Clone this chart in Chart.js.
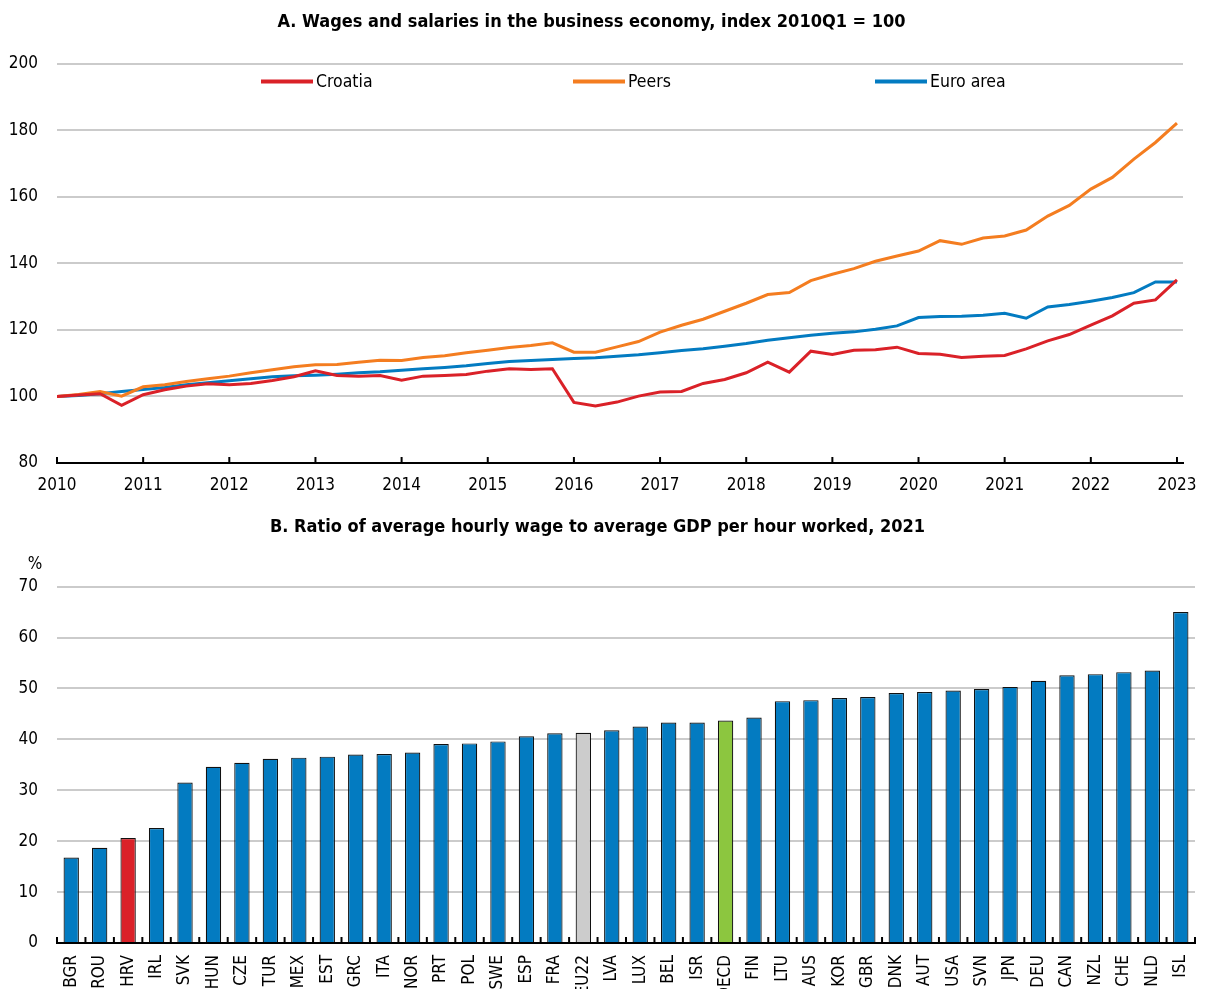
<!DOCTYPE html>
<html>
<head>
<meta charset="utf-8">
<script src="https://cdn.jsdelivr.net/npm/chart.js@4.4.0/dist/chart.umd.min.js"></script>
<style>
  body { margin: 0; background: #fff; }
  #chartA { position: absolute; left: 0; top: 0; }
  #chartB { position: absolute; left: 0; top: 505px; }
</style>
</head>
<body>
<canvas id="chartA" width="1206" height="505"></canvas>
<canvas id="chartB" width="1206" height="484"></canvas>
<script>
// Panel A : quarterly index, 2010Q1 .. 2023Q1
const firstYear = 2010;
const lastYear = 2023;
const seriesNames = ['Croatia', 'Peers', 'Euro area'];

const croatia = [100, 100.4, 100.8, 97.3, 100.5, 102.0, 103.1, 103.8, 103.5, 103.9,
    104.8, 105.9, 107.7, 106.3, 106.1, 106.3, 104.9, 106.1, 106.3, 106.6,
    107.6, 108.3, 108.1, 108.3, 98.2, 97.1, 98.3, 100.1, 101.3, 101.5,
    103.9, 105.1, 107.1, 110.3, 107.3, 113.6, 112.6, 113.9, 114.0, 114.8,
    112.9, 112.7, 111.7, 112.1, 112.3, 114.3, 116.7, 118.6, 121.4, 124.2,
    128.0, 129.0, 135.0];

const peers = [100, 100.6, 101.5, 100.1, 102.9, 103.5, 104.5, 105.3, 106.1, 107.1,
    108.0, 108.9, 109.5, 109.6, 110.3, 110.9, 110.8, 111.7, 112.2, 113.1,
    113.9, 114.7, 115.3, 116.1, 113.3, 113.3, 114.9, 116.5, 119.3, 121.4,
    123.2, 125.6, 128.0, 130.6, 131.2, 134.8, 136.7, 138.4, 140.6, 142.2,
    143.7, 146.8, 145.7, 147.6, 148.2, 150.0, 154.2, 157.4, 162.3, 165.8,
    171.3, 176.3, 182.1];

const euroArea = [100, 100.3, 100.8, 101.5, 102.1, 102.7, 103.5, 104.1, 104.7, 105.3,
    105.9, 106.2, 106.4, 106.7, 107.1, 107.4, 107.9, 108.3, 108.7, 109.2,
    109.9, 110.5, 110.8, 111.1, 111.4, 111.6, 112.1, 112.5, 113.1, 113.8,
    114.3, 115.1, 115.9, 116.9, 117.6, 118.4, 119.0, 119.4, 120.2, 121.2,
    123.7, 124.0, 124.1, 124.4, 125.0, 123.5, 126.9, 127.6, 128.6, 129.7,
    131.2, 134.4, 134.4];

// Panel B : ratio in %, 2021
const countries = ['BGR', 'ROU', 'HRV', 'IRL', 'SVK', 'HUN', 'CZE', 'TUR', 'MEX', 'EST',
    'GRC', 'ITA', 'NOR', 'PRT', 'POL', 'SWE', 'ESP', 'FRA', 'EU22', 'LVA',
    'LUX', 'BEL', 'ISR', 'OECD', 'FIN', 'LTU', 'AUS', 'KOR', 'GBR', 'DNK',
    'AUT', 'USA', 'SVN', 'JPN', 'DEU', 'CAN', 'NZL', 'CHE', 'NLD', 'ISL'];
const ratios = [16.8, 18.7, 20.6, 22.6, 31.5, 34.6, 35.4, 36.2, 36.4, 36.6,
    37.0, 37.1, 37.4, 39.1, 39.2, 39.6, 40.6, 41.2, 41.3, 41.8,
    42.5, 43.3, 43.3, 43.7, 44.3, 47.5, 47.7, 48.1, 48.3, 49.1,
    49.3, 49.6, 49.9, 50.3, 51.5, 52.6, 52.8, 53.2, 53.5, 65.0];

const FONT = "'DejaVu Sans Condensed', 'Liberation Sans Narrow', sans-serif";
const RED = '#da2128', ORANGE = '#f47d20', BLUE = '#037bc1';
const GRID = '#cbcbcb';

let toPoints = function (values) {
    return values.map((v, i) => ({ x: firstYear + i / 4, y: v }));
};

// small ticks pointing up into the plot, like the original
const innerTicks = {
    id: 'innerTicks',
    afterDraw(chart, args, opts) {
        const sx = chart.scales.x;
        const ctx = chart.ctx;
        const bottom = chart.chartArea.bottom;
        let xs = [];
        if (opts.between) {
            const n = sx.ticks.length;
            for (let i = 0; i <= n; i++) xs.push(sx.left + i * sx.width / n);
        } else {
            xs = sx.ticks.map(t => sx.getPixelForValue(t.value));
        }
        ctx.save();
        ctx.strokeStyle = '#000';
        ctx.lineWidth = 2;
        xs.forEach(px => {
            ctx.beginPath();
            ctx.moveTo(px, bottom);
            ctx.lineTo(px, bottom - 6);
            ctx.stroke();
        });
        ctx.restore();
    }
};

const lineLegend = {
    id: 'lineLegend',
    afterDraw(chart, args, opts) {
        const ctx = chart.ctx;
        const area = chart.chartArea;
        const y = area.top + 18;
        ctx.save();
        ctx.font = '17.5px ' + FONT;
        ctx.textBaseline = 'middle';
        ctx.fillStyle = '#000';
        chart.data.datasets.forEach((ds, i) => {
            const x0 = area.left + opts.offsets[i];
            ctx.strokeStyle = ds.borderColor;
            ctx.lineWidth = 4;
            ctx.beginPath();
            ctx.moveTo(x0, y);
            ctx.lineTo(x0 + 52, y);
            ctx.stroke();
            ctx.fillText(ds.label, x0 + 55, y + 1);
        });
        ctx.restore();
    }
};

const unitLabel = {
    id: 'unitLabel',
    afterDraw(chart) {
        const ctx = chart.ctx;
        ctx.save();
        ctx.font = '17px ' + FONT;
        ctx.fillStyle = '#000';
        ctx.textAlign = 'center';
        ctx.textBaseline = 'middle';
        ctx.fillText('%', 35, chart.chartArea.top - 22);
        ctx.restore();
    }
};

let createChartA = function () {
    const allSeries = [croatia, peers, euroArea];
    const colors = [RED, ORANGE, BLUE];
    const datasets = allSeries.map((s, i) => ({
        label: seriesNames[i],
        data: toPoints(s),
        borderColor: colors[i],
        borderWidth: 3,
        pointRadius: 0,
        fill: false,
        tension: 0
    }));

    new Chart(document.getElementById('chartA'), {
        type: 'line',
        data: { datasets: datasets },
        plugins: [innerTicks, lineLegend],
        options: {
            responsive: false,
            animation: false,
            layout: { padding: { left: 0, right: 23, top: 0, bottom: 0 } },
            plugins: {
                legend: { display: false },
                tooltip: { enabled: false },
                title: {
                    display: true,
                    text: 'A. Wages and salaries in the business economy, index 2010Q1 = 100',
                    color: '#000',
                    font: { family: FONT, size: 18, weight: 'bold', lineHeight: 1.2 },
                    padding: { top: 12, bottom: 30 }
                },
                innerTicks: { between: false },
                lineLegend: { offsets: [204, 516, 818] }
            },
            scales: {
                x: {
                    type: 'linear',
                    min: firstYear,
                    max: lastYear + 0.07,
                    ticks: {
                        autoSkip: false,
                        maxRotation: 0,
                        color: '#000',
                        padding: 4,
                        font: { family: FONT, size: 17 },
                        callback: v => String(v)
                    },
                    afterBuildTicks: s => {
                        let years = [];
                        for (let y = firstYear; y <= lastYear; y++) years.push({ value: y });
                        s.ticks = years;
                    },
                    grid: { display: false },
                    border: { display: true, color: '#000', width: 2 },
                    afterFit: s => { s.height = 42; s.paddingLeft = 0; s.paddingRight = 0; }
                },
                y: {
                    min: 80,
                    max: 200,
                    ticks: { stepSize: 20, color: '#000', padding: 19, font: { family: FONT, size: 17 } },
                    grid: { color: GRID, lineWidth: 2, drawTicks: false },
                    border: { display: false },
                    afterFit: s => { s.width = 57; }
                }
            }
        }
    });
}

let createChartB = function () {
    const barColors = countries.map(c => c === 'HRV' ? RED : c === 'EU22' ? '#cccccc' : c === 'OECD' ? '#8cc63f' : BLUE);

    new Chart(document.getElementById('chartB'), {
        type: 'bar',
        data: {
            labels: countries,
            datasets: [{
                label: 'Ratio',
                data: ratios,
                backgroundColor: barColors,
                borderColor: '#111',
                borderWidth: 1.2,
                categoryPercentage: 1,
                barPercentage: 0.54
            }]
        },
        plugins: [innerTicks, unitLabel],
        options: {
            responsive: false,
            animation: false,
            layout: { padding: { left: 0, right: 11, top: 0, bottom: 0 } },
            plugins: {
                legend: { display: false },
                tooltip: { enabled: false },
                title: {
                    display: true,
                    text: 'B. Ratio of average hourly wage to average GDP per hour worked, 2021',
                    color: '#000',
                    font: { family: FONT, size: 18, weight: 'bold', lineHeight: 1.2 },
                    padding: { top: 12, bottom: 48 }
                },
                innerTicks: { between: true }
            },
            scales: {
                x: {
                    ticks: {
                        autoSkip: false,
                        minRotation: 90,
                        maxRotation: 90,
                        color: '#000',
                        padding: 4,
                        font: { family: FONT, size: 17 }
                    },
                    grid: { display: false },
                    border: { display: true, color: '#000', width: 2 },
                    afterFit: s => { s.height = 46; s.paddingLeft = 0; s.paddingRight = 0; }
                },
                y: {
                    min: 0,
                    max: 70,
                    ticks: { stepSize: 10, color: '#000', padding: 19, font: { family: FONT, size: 17 } },
                    grid: { color: GRID, lineWidth: 2, drawTicks: false },
                    border: { display: false },
                    afterFit: s => { s.width = 57; }
                }
            }
        }
    });
}

createChartA();
createChartB();
</script>
</body>
</html>
